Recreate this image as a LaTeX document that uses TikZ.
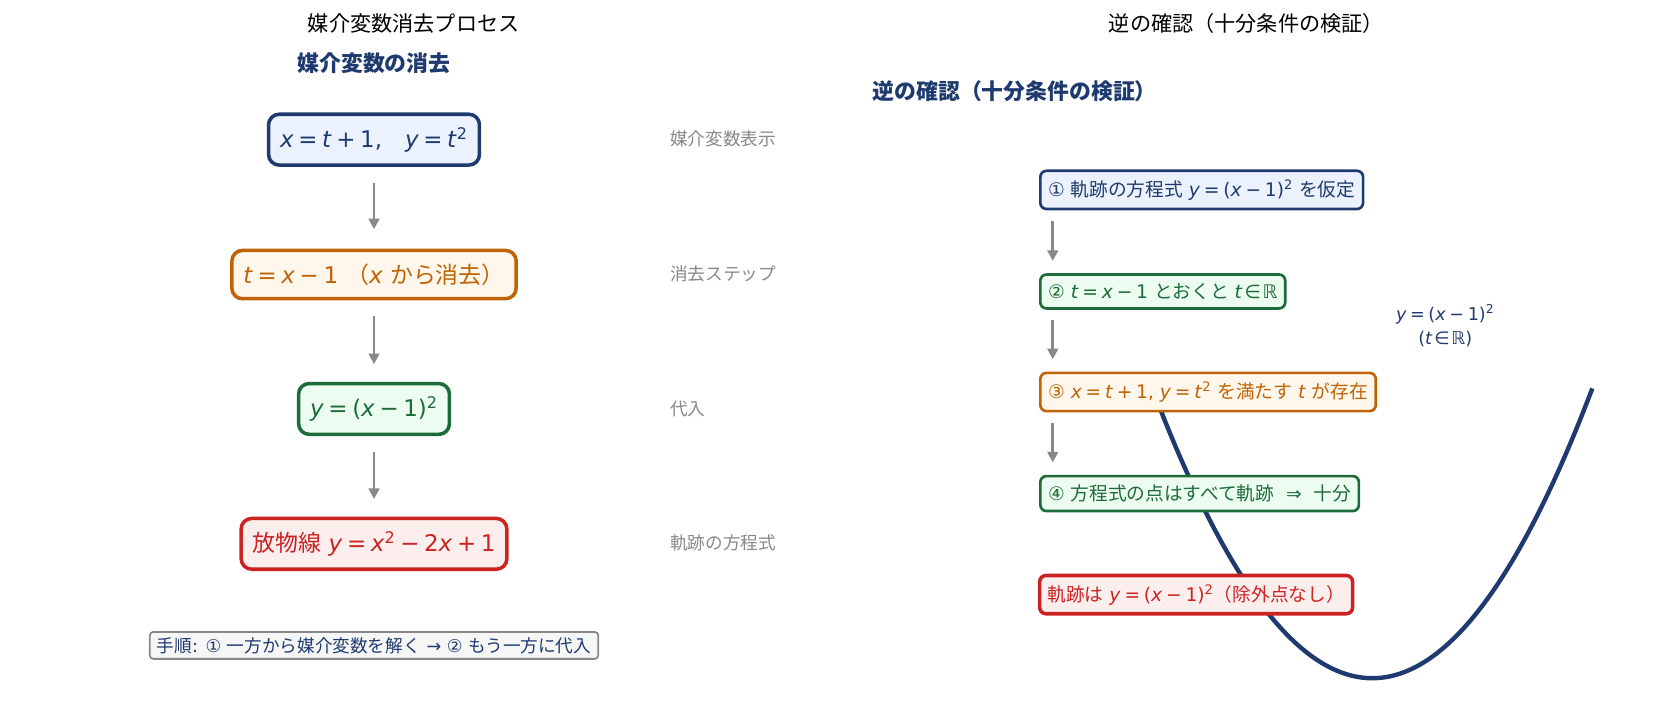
\documentclass[tikz,border=0pt]{standalone}
\usepackage{fontspec}
\setmainfont{DejaVu Sans}
\newfontfamily\jp{Noto Sans CJK JP}
\usetikzlibrary{calc}
\usetikzlibrary{arrows.meta}

\definecolor{navy}{HTML}{1E3A6E}
\definecolor{navyfill}{HTML}{EBF2FD}
\definecolor{orng}{HTML}{BF6305}
\definecolor{orngfill}{HTML}{FFF6EC}
\definecolor{grn}{HTML}{1C6B38}
\definecolor{grnfill}{HTML}{EDFCF1}
\definecolor{rd}{HTML}{CC2222}
\definecolor{rdfill}{HTML}{FDEEEE}
\definecolor{arrowgray}{HTML}{888888}
\definecolor{notefill}{HTML}{F6F6F6}

\newcommand\mv[1]{\textit{#1}}
\newcommand\meq{\hspace{0.2em}=\hspace{0.2em}}
\newcommand\mplus{\hspace{0.2em}+\hspace{0.2em}}
\newcommand\mminus{\hspace{0.2em}−\hspace{0.2em}}
\newcommand\msq{\textsuperscript{2}}

\begin{document}
\begin{tikzpicture}[x=0.6pt,y=-0.6pt,
  lbox/.style={rounded corners=6pt, line width=2pt, inner xsep=6.5pt, inner ysep=7.5pt, font=\fontsize{13}{16}\selectfont},
  rbox/.style={anchor=west, rounded corners=3.5pt, line width=1.5pt, inner xsep=4.4pt, inner ysep=5pt, font=\fontsize{10.6}{13}\selectfont},
  cnavy/.style={draw=navy, fill=navyfill, text=navy},
  corng/.style={draw=orng, fill=orngfill, text=orng},
  cgrn/.style={draw=grn, fill=grnfill, text=grn},
  crd/.style={draw=rd, fill=rdfill, text=rd},
  side/.style={anchor=west, inner xsep=0pt, text=arrowgray, font=\jp\fontsize{10}{12}\selectfont},
  flow/.style={draw=arrowgray, line width=1.5pt, -{Triangle[width=6pt,length=6pt]}},
  curve/.style={draw=navy, line width=2.5pt}]

\useasboundingbox (0,0) rectangle (1568,688);

% titles
\node (elimTitle) at (391,22) {\jp\fontsize{12}{14}\selectfont 媒介変数消去プロセス};
\node (checkTitle) at (1178,22) {\jp\fontsize{12}{14}\selectfont 逆の確認（十分条件の検証）};
\node[text=navy] (elimHead) at (353.5,60) {\jp\bfseries\fontsize{12.4}{15}\selectfont 媒介変数の消去};
\node[text=navy] (checkHead) at (959,86) {\jp\bfseries\fontsize{12.4}{15}\selectfont 逆の確認（十分条件の検証）};

% parabola behind the boxes
\draw[curve] plot[domain=-1:1, samples=80, smooth] ({1297+208*\x},{641-274*\x*\x});
\node[text=navy, align=center, font=\fontsize{10}{14}\selectfont] (curveLbl) at (1366,308)
  {\mv{y}\meq(\mv{x}\mminus1)\msq\\(\mv{t}\hspace{0.1em}∈\hspace{0.1em}ℝ)};

% left column
\node[lbox,cnavy] (p1) at (353.5,132) {\mv{x}\meq\mv{t}\mplus1,\hspace{1em}\mv{y}\meq\mv{t}\msq};
\node[lbox,corng] (p2) at (353.5,259.5) {\mv{t}\meq\mv{x}\mminus1\hspace{0.35em}{\jp （}\mv{x} {\jp から消去）}};
\node[lbox,cgrn] (p3) at (353.5,386.5) {\mv{y}\meq(\mv{x}\mminus1)\msq};
\node[lbox,crd] (p4) at (353.5,514) {{\jp 放物線} \mv{y}\meq\mv{x}\msq\mminus2\mv{x}\mplus1};

\draw[flow, shorten <=9pt, shorten >=11pt] (p1) -- (p2);
\draw[flow, shorten <=9pt, shorten >=10pt] (p2) -- (p3);
\draw[flow, shorten <=9pt, shorten >=10pt] (p3) -- (p4);

\node[side] (s1) at (633,131) {媒介変数表示};
\node[side] (s2) at (633,259) {消去ステップ};
\node[side] (s3) at (633,386) {代入};
\node[side] (s4) at (633,513) {軌跡の方程式};

\node[draw=arrowgray, fill=notefill, text=navy, rounded corners=2pt, line width=1pt, inner xsep=4pt, inner ysep=3pt,
  font=\fontsize{10}{12}\selectfont] (howto) at (353.5,610)
  {{\jp 手順}: ① {\jp 一方から媒介変数を解く} → ② {\jp もう一方に代入}};

% right column
\node[rbox,cnavy] (v1) at (982,179.5) {① {\jp 軌跡の方程式} \mv{y}\meq(\mv{x}\mminus1)\msq\ {\jp を仮定}};
\node[rbox,cgrn] (v2) at (982,275.5) {② \mv{t}\meq\mv{x}\mminus1 {\jp とおくと} \mv{t}\hspace{0.1em}∈\hspace{0.1em}ℝ};
\node[rbox,corng] (v3) at (982,370.5) {③ \mv{x}\meq\mv{t}\mplus1, \mv{y}\meq\mv{t}\msq\ {\jp を満たす} \mv{t} {\jp が存在}};
\node[rbox,cgrn] (v4) at (982,466.5) {④ {\jp 方程式の点はすべて軌跡} ~⇒~ {\jp 十分}};
\node[rbox,crd, line width=2pt] (v5) at (981,562) {{\jp 軌跡は} \mv{y}\meq(\mv{x}\mminus1)\msq{\jp （除外点なし）}};

\draw[flow, shorten <=6pt, shorten >=7pt] ([xshift=7.8pt]v1.south west) -- ([xshift=7.8pt]v2.north west);
\draw[flow, shorten <=6pt, shorten >=7pt] ([xshift=7.8pt]v2.south west) -- ([xshift=7.8pt]v3.north west);
\draw[flow, shorten <=6pt, shorten >=7pt] ([xshift=7.8pt]v3.south west) -- ([xshift=7.8pt]v4.north west);

\end{tikzpicture}
\end{document}
